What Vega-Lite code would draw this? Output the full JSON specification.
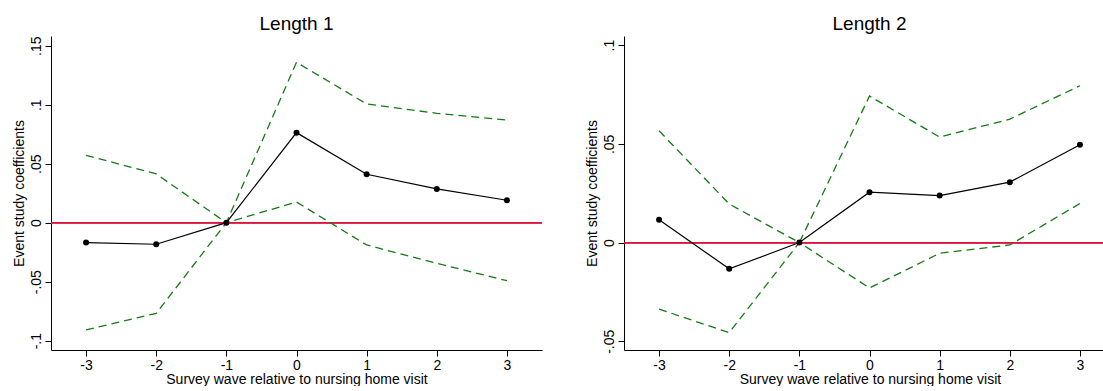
{
  "$schema": "https://vega.github.io/schema/vega-lite/v6.json",
  "padding": {"left": 11, "top": 14, "right": 0, "bottom": 0},
  "background": "white",
  "config": {
    "font": "Liberation Sans",
    "view": {"stroke": null},
    "concat": {"spacing": 42},
    "title": {"fontSize": 19, "fontWeight": "normal", "color": "black", "offset": 2, "anchor": "middle"},
    "axis": {
      "grid": false,
      "domainColor": "black",
      "domainWidth": 1,
      "tickColor": "black",
      "tickWidth": 1,
      "tickSize": 6,
      "labelFontSize": 14,
      "titleFontSize": 14,
      "labelColor": "black",
      "titleColor": "black",
      "titleFontWeight": "normal",
      "labelFont": "Liberation Sans",
      "titleFont": "Liberation Sans"
    }
  },
  "data": {
    "values": [
      {"panel": "Length 1", "wave": -3, "coef": -0.0169, "lo": -0.0909, "hi": 0.0571},
      {"panel": "Length 1", "wave": -2, "coef": -0.0183, "lo": -0.0768, "hi": 0.0413},
      {"panel": "Length 1", "wave": -1, "coef": 0, "lo": 0, "hi": 0},
      {"panel": "Length 1", "wave": 0, "coef": 0.0763, "lo": 0.0175, "hi": 0.1359},
      {"panel": "Length 1", "wave": 1, "coef": 0.041, "lo": -0.0189, "hi": 0.1006},
      {"panel": "Length 1", "wave": 2, "coef": 0.0286, "lo": -0.0344, "hi": 0.0927},
      {"panel": "Length 1", "wave": 3, "coef": 0.019, "lo": -0.0492, "hi": 0.087},
      {"panel": "Length 2", "wave": -3, "coef": 0.0115, "lo": -0.0337, "hi": 0.0566},
      {"panel": "Length 2", "wave": -2, "coef": -0.0133, "lo": -0.0456, "hi": 0.0195},
      {"panel": "Length 2", "wave": -1, "coef": 0, "lo": 0, "hi": 0},
      {"panel": "Length 2", "wave": 0, "coef": 0.0255, "lo": -0.023, "hi": 0.0742},
      {"panel": "Length 2", "wave": 1, "coef": 0.0238, "lo": -0.0054, "hi": 0.0534},
      {"panel": "Length 2", "wave": 2, "coef": 0.0306, "lo": -0.0012, "hi": 0.0625},
      {"panel": "Length 2", "wave": 3, "coef": 0.0495, "lo": 0.0198, "hi": 0.0794}
    ]
  },
  "hconcat": [
    {
      "title": {"text": "Length 1"},
      "width": 491,
      "height": 314,
      "transform": [{"filter": "datum.panel === 'Length 1'"}],
      "encoding": {
        "x": {
          "field": "wave", "type": "quantitative",
          "scale": {"domain": [-3.5, 3.5], "nice": false, "zero": false},
          "axis": {"title": "Survey wave relative to nursing home visit", "values": [-3, -2, -1, 0, 1, 2, 3], "labelExpr": "'' + datum.value", "labelPadding": 2, "titlePadding": 0}
        }
      },
      "layer": [
        {
          "mark": {"type": "rule", "color": "#dc143c", "strokeWidth": 1.3},
          "encoding": {"y": {"datum": 0, "type": "quantitative"}, "x": null}
        },
        {
          "mark": {"type": "line", "color": "#157a15", "strokeWidth": 1.3, "strokeDash": [8, 5]},
          "encoding": {
            "y": {
              "field": "hi", "type": "quantitative",
              "scale": {"domain": [-0.1079, 0.1582], "nice": false, "zero": false},
              "axis": {"title": "Event study coefficients", "values": [-0.1, -0.05, 0, 0.05, 0.1, 0.15], "labelAngle": -90, "labelAlign": "center", "labelBaseline": "bottom", "labelPadding": 2, "titlePadding": 3, "labelExpr": "datum.value == 0 ? '0' : (datum.value < 0 ? '-' : '') + slice('' + abs(datum.value), 1)"}
            }
          }
        },
        {
          "mark": {"type": "line", "color": "#157a15", "strokeWidth": 1.3, "strokeDash": [8, 5]},
          "encoding": {"y": {"field": "lo", "type": "quantitative"}}
        },
        {
          "mark": {"type": "line", "color": "black", "strokeWidth": 1.2},
          "encoding": {"y": {"field": "coef", "type": "quantitative"}}
        },
        {
          "mark": {"type": "point", "filled": true, "color": "black", "opacity": 1, "size": 36},
          "encoding": {"y": {"field": "coef", "type": "quantitative"}}
        }
      ]
    },
    {
      "title": {"text": "Length 2", "dx": 5},
      "width": 481,
      "height": 314,
      "transform": [{"filter": "datum.panel === 'Length 2'"}],
      "encoding": {
        "x": {
          "field": "wave", "type": "quantitative",
          "scale": {"domain": [-3.5, 3.357], "nice": false, "zero": false},
          "axis": {"title": "Survey wave relative to nursing home visit", "values": [-3, -2, -1, 0, 1, 2, 3], "labelExpr": "'' + datum.value", "labelPadding": 2, "titlePadding": 0, "titleX": 245.9}
        }
      },
      "layer": [
        {
          "mark": {"type": "rule", "color": "#dc143c", "strokeWidth": 1.3},
          "encoding": {"y": {"datum": 0, "type": "quantitative"}, "x": null}
        },
        {
          "mark": {"type": "line", "color": "#157a15", "strokeWidth": 1.3, "strokeDash": [8, 5]},
          "encoding": {
            "y": {
              "field": "hi", "type": "quantitative",
              "scale": {"domain": [-0.0544, 0.1046], "nice": false, "zero": false},
              "axis": {"title": "Event study coefficients", "values": [-0.05, 0, 0.05, 0.1], "labelAngle": -90, "labelAlign": "center", "labelBaseline": "bottom", "labelPadding": 2, "titlePadding": 3, "labelExpr": "datum.value == 0 ? '0' : (datum.value < 0 ? '-' : '') + slice('' + abs(datum.value), 1)"}
            }
          }
        },
        {
          "mark": {"type": "line", "color": "#157a15", "strokeWidth": 1.3, "strokeDash": [8, 5]},
          "encoding": {"y": {"field": "lo", "type": "quantitative"}}
        },
        {
          "mark": {"type": "line", "color": "black", "strokeWidth": 1.2},
          "encoding": {"y": {"field": "coef", "type": "quantitative"}}
        },
        {
          "mark": {"type": "point", "filled": true, "color": "black", "opacity": 1, "size": 36},
          "encoding": {"y": {"field": "coef", "type": "quantitative"}}
        }
      ]
    }
  ]
}
